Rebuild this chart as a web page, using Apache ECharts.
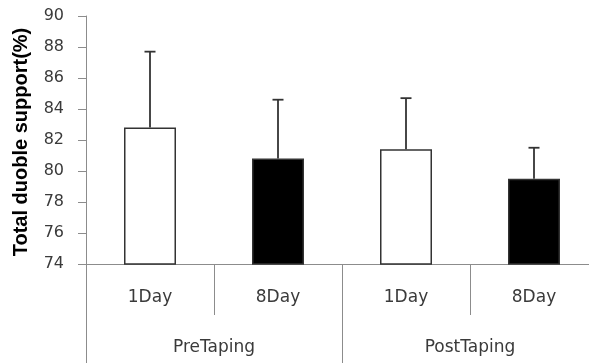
<!DOCTYPE html>
<html>
<head>
<meta charset="utf-8">
<script src="https://cdn.jsdelivr.net/npm/echarts@6/dist/echarts.min.js"></script>
<style>html,body{margin:0;padding:0;background:#fff;overflow:hidden;}#c{width:598px;height:363px;}</style>
</head>
<body>
<div id="c"></div>
<script>
var dayLabels = ['1Day', '8Day', '1Day', '8Day'];
var groupLabels = ['PreTaping', 'PostTaping'];
var means = [82.8, 80.8, 81.4, 79.5];
var sds = [4.9, 3.8, 3.3, 2.0];
var yTicks = {min: 74, max: 90, interval: 2};
var yTitle = 'Total duoble support(%)';

var chart = echarts.init(document.getElementById('c'));
var axisGray = '#8c8c8c';
var labelColor = '#3a3a3a';
var errData = means.map(function (m, i) { return [i, m, m + sds[i]]; });

chart.setOption({
  animation: false,
  backgroundColor: '#fff',
  grid: {left: 86, top: 16, bottom: 99, right: 0, containLabel: false},
  xAxis: [
    {
      type: 'category', data: dayLabels, position: 'bottom',
      axisLine: {show: true, lineStyle: {color: axisGray, width: 1}},
      axisTick: {show: true, interval: 0, length: 51, lineStyle: {color: axisGray, width: 1}},
      axisLabel: {interval: 0, margin: 25, fontSize: 17, color: labelColor, fontFamily: 'DejaVu Sans'}
    },
    {
      type: 'category', data: groupLabels, position: 'bottom',
      axisLine: {show: false},
      axisTick: {show: true, interval: 0, length: 100, lineStyle: {color: axisGray, width: 1}},
      axisLabel: {interval: 0, margin: 75, fontSize: 17, color: labelColor, fontFamily: 'DejaVu Sans'}
    }
  ],
  yAxis: {
    type: 'value', min: yTicks.min, max: yTicks.max, interval: yTicks.interval,
    axisLine: {show: true, lineStyle: {color: axisGray, width: 1}},
    axisTick: {show: true, length: 8, lineStyle: {color: axisGray, width: 1}},
    splitLine: {show: false},
    axisLabel: {margin: 22, fontSize: 16, color: labelColor, fontFamily: 'DejaVu Sans'}
  },
  graphic: [{
    type: 'text', x: 21, y: 142, rotation: Math.PI / 2,
    style: {text: yTitle, fill: '#000', font: 'bold 20px "Liberation Sans", Arial, sans-serif',
      textAlign: 'center', textVerticalAlign: 'middle'}
  }],
  series: [
    {
      type: 'bar', xAxisIndex: 0, data: means, barWidth: 52,
      itemStyle: {
        color: function (p) { return p.dataIndex % 2 ? '#000' : '#fff'; },
        borderColor: '#333', borderWidth: 1.5
      }
    },
    {
      type: 'custom', xAxisIndex: 0, data: errData, z: 3,
      renderItem: function (params, api) {
        var x = api.value(0);
        var base = api.coord([x, api.value(1)]);
        var top = api.coord([x, api.value(2)]);
        var hw = 5.5;
        var st = {stroke: '#333', lineWidth: 1.8};
        return {
          type: 'group', children: [
            {type: 'line', shape: {x1: base[0], y1: base[1], x2: top[0], y2: top[1]}, style: st},
            {type: 'line', shape: {x1: top[0] - hw, y1: top[1], x2: top[0] + hw, y2: top[1]}, style: st}
          ]
        };
      }
    }
  ]
});
</script>
</body>
</html>
